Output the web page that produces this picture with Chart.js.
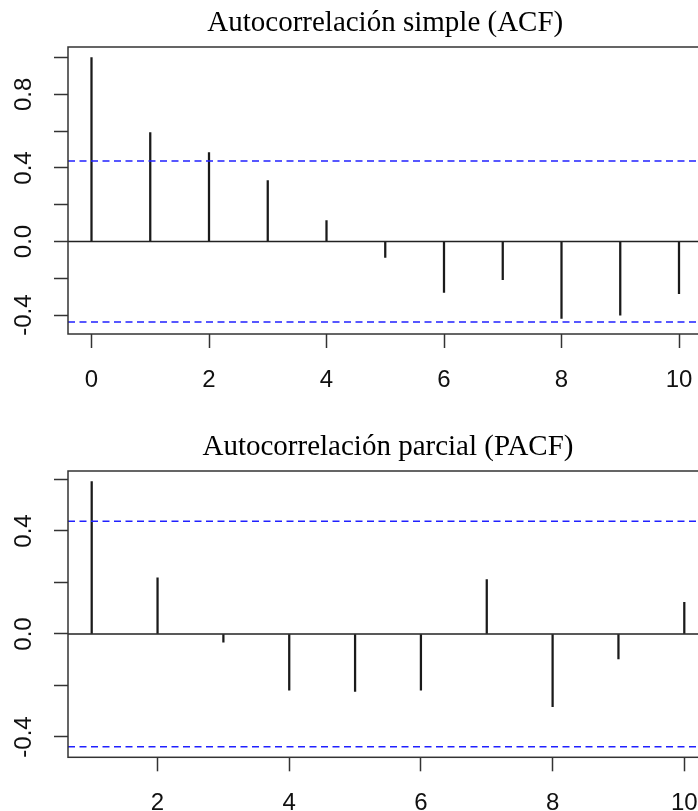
<!DOCTYPE html>
<html>
<head>
<meta charset="utf-8">
<script src="https://cdn.jsdelivr.net/npm/chart.js@4.4.0/dist/chart.umd.min.js"></script>
<style>
  html, body { margin: 0; padding: 0; background: #fff; overflow: hidden; width: 698px; height: 811px; }
  canvas { position: absolute; left: 0; }
  #acf-chart { top: 0; }
  #pacf-chart { top: 400px; }
</style>
</head>
<body>
<canvas id="acf-chart" width="720" height="400"></canvas>
<canvas id="pacf-chart" width="720" height="411"></canvas>
<script>
// ACF
var acfLags = [0, 1, 2, 3, 4, 5, 6, 7, 8, 9, 10];
var acfValues = [1.0, 0.592, 0.484, 0.332, 0.114, -0.087, -0.277, -0.208, -0.418, -0.400, -0.284];
var acfXTicks = [0, 2, 4, 6, 8, 10];
var acfYTicks = [-0.4, -0.2, 0.0, 0.2, 0.4, 0.6, 0.8, 1.0];
var acfYLabels = ['-0.4', '', '0.0', '', '0.4', '', '0.8', ''];

// PACF
var pacfLags = [1, 2, 3, 4, 5, 6, 7, 8, 9, 10];
var pacfValues = [0.592, 0.218, -0.032, -0.218, -0.223, -0.218, 0.211, -0.282, -0.097, 0.123];
var pacfXTicks = [2, 4, 6, 8, 10];
var pacfYTicks = [-0.4, -0.2, 0.0, 0.2, 0.4, 0.6];
var pacfYLabels = ['-0.4', '', '0.0', '', '0.4', ''];

// 1.96 / sqrt(n)
var ciBound = 0.438;

var axisFont = { family: "'Liberation Sans', Arial, sans-serif", size: 24 };
var titleFont = { family: "'Liberation Serif', 'Times New Roman', serif", size: 29, weight: 'normal' };

var boxPlugin = {
    id: 'box',
    afterDatasetsDraw: function (chart) {
        var a = chart.chartArea;
        var ctx = chart.ctx;
        ctx.save();
        ctx.strokeStyle = '#333';
        ctx.lineWidth = 1.5;
        ctx.strokeRect(a.left, a.top, a.right - a.left, a.bottom - a.top);
        ctx.restore();
    }
};

function makeChart(id, o) {
    var stems = o.lags.map(function (l, i) { return { x: l, y: o.values[i] }; });
    return new Chart(document.getElementById(id), {
        type: 'bar',
        data: {
            datasets: [
                {
                    type: 'line',
                    data: [{ x: o.xMin, y: ciBound }, { x: o.xMax, y: ciBound }],
                    borderColor: '#2020ff', borderWidth: 1.5, borderDash: [7, 4.5],
                    pointRadius: 0
                },
                {
                    type: 'line',
                    data: [{ x: o.xMin, y: -ciBound }, { x: o.xMax, y: -ciBound }],
                    borderColor: '#2020ff', borderWidth: 1.5, borderDash: [7, 4.5],
                    pointRadius: 0
                },
                {
                    type: 'line',
                    data: [{ x: o.xMin, y: 0 }, { x: o.xMax, y: 0 }],
                    borderColor: '#222', borderWidth: 1.5,
                    pointRadius: 0
                },
                {
                    type: 'bar',
                    data: stems,
                    backgroundColor: '#1a1a1a',
                    borderWidth: 0,
                    barThickness: 1.6
                }
            ]
        },
        options: {
            responsive: false,
            animation: false,
            devicePixelRatio: 1,
            layout: { padding: { left: 0, right: o.padRight, top: 0, bottom: 0 } },
            plugins: {
                legend: { display: false },
                tooltip: { enabled: false },
                title: {
                    display: true,
                    text: o.title,
                    fullSize: false,
                    color: '#000',
                    font: titleFont,
                    padding: { top: o.titleTop, bottom: o.titleBottom }
                }
            },
            scales: {
                x: {
                    type: 'linear',
                    offset: false,
                    min: o.xMin,
                    max: o.xMax,
                    afterBuildTicks: function (s) { s.ticks = o.xTicks.map(function (v) { return { value: v }; }); },
                    afterFit: function (s) { s.height = o.xHeight; },
                    border: { display: false },
                    grid: { offset: false, drawOnChartArea: false, drawTicks: true, tickLength: 14, tickColor: '#333', tickWidth: 1.5 },
                    ticks: { color: '#111', font: axisFont, padding: 17.5, maxRotation: 0, autoSkip: false }
                },
                y: {
                    type: 'linear',
                    min: o.yMin,
                    max: o.yMax,
                    afterBuildTicks: function (s) { s.ticks = o.yTicks.map(function (v) { return { value: v }; }); },
                    afterFit: function (s) { s.width = 68; },
                    border: { display: false },
                    grid: { drawOnChartArea: false, drawTicks: true, tickLength: 14, tickColor: '#333', tickWidth: 1.5 },
                    ticks: {
                        color: '#111', font: axisFont, padding: 8.5,
                        minRotation: 90, maxRotation: 90, crossAlign: 'center', autoSkip: false,
                        callback: function (value, index) { return o.yLabels[index]; }
                    }
                }
            }
        },
        plugins: [boxPlugin]
    });
}

makeChart('acf-chart', {
    lags: acfLags, values: acfValues, xTicks: acfXTicks, yTicks: acfYTicks, yLabels: acfYLabels,
    title: 'Autocorrelación simple (ACF)',
    xMin: -0.4, xMax: 10.4, yMin: -0.503, yMax: 1.058,
    padRight: 17.5, xHeight: 66, titleTop: 5.6, titleBottom: 6.6
});

makeChart('pacf-chart', {
    lags: pacfLags, values: pacfValues, xTicks: pacfXTicks, yTicks: pacfYTicks, yLabels: pacfYLabels,
    title: 'Autocorrelación parcial (PACF)',
    xMin: 0.64, xMax: 10.36, yMin: -0.479, yMax: 0.633,
    padRight: 12, xHeight: 53.7, titleTop: 29.6, titleBottom: 6.6
});
</script>
</body>
</html>
